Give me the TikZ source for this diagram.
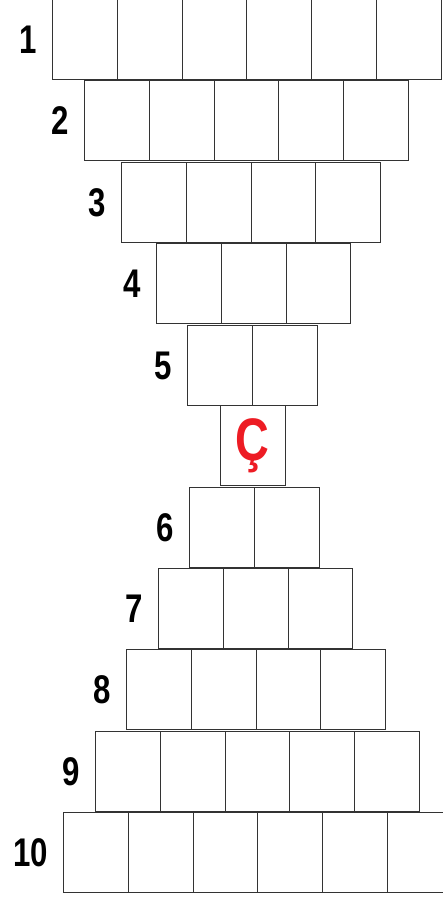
\documentclass[tikz,border=0pt]{standalone}
\usepackage{fontspec}
\newfontfamily\numfont{Liberation Sans}[FakeStretch=0.78]
\usetikzlibrary{positioning}
\definecolor{cellline}{HTML}{333333}
\definecolor{cedred}{HTML}{ED1C24}
\tikzset{
  % casella della piramide
  cell/.style={draw=cellline, line width=0.9pt, minimum width=64.8pt,
    minimum height=80pt, inner sep=0pt, anchor=north west},
  % numero della riga
  rowlbl/.style={font=\numfont\bfseries\fontsize{40}{40}\selectfont, inner sep=0pt},
  % lettera data
  given/.style={cell, text=cedred, font=\numfont\bfseries\fontsize{60}{60}\selectfont},
}
\begin{document}
\begin{tikzpicture}[x=1pt, y=-1pt]
  \useasboundingbox (0,0) rectangle (442,897);
  \foreach \r/\k/\x/\y in {1/6/52/-1, 2/5/84/80, 3/4/121/162, 4/3/156/243, 5/2/187/325,
      6/2/189/487, 7/3/158/568, 8/4/126/649, 9/5/95/731, 10/6/63/812} {
    \foreach \c in {1,...,\k} \node[cell] (c\r-\c) at ({\x+(\c-1)*64.8}, \y) {};
    \node[rowlbl, left=15pt of c\r-1] (l\r) {\r};
  }
  \node[given] (cc) at (220,405) {Ç};
\end{tikzpicture}
\end{document}
